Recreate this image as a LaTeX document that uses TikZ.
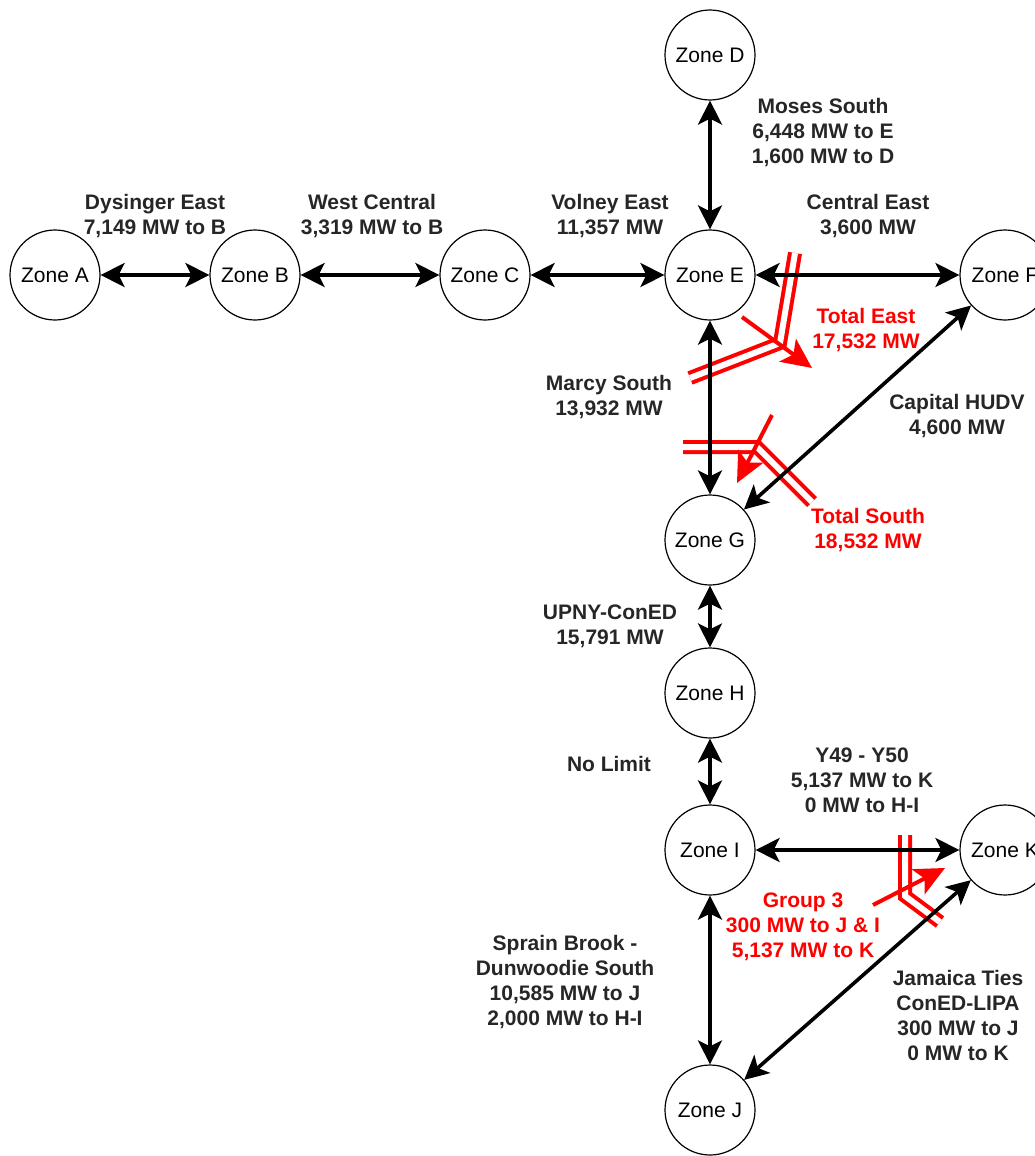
\documentclass[tikz,border=0pt]{standalone}
\usepackage{fontspec}
\setmainfont{Liberation Sans}
\usetikzlibrary{arrows.meta}

\newcommand\zonefont{\fontsize{21}{25}\selectfont}
\newcommand\lblfont{\fontsize{21}{25}\selectfont\bfseries}

\begin{document}
\begin{tikzpicture}[
            x=1pt, y=-1pt,
            zone/.style={circle, draw, line width=1.2pt, minimum size=90pt, inner sep=0pt, font=\zonefont},
            lbl/.style={font=\lblfont, align=center, text=black!85},
            redlbl/.style={font=\lblfont, align=center, text=red},
            link/.style={{Stealth[length=24pt,width=24pt,inset=6pt]}-{Stealth[length=24pt,width=24pt,inset=6pt]}, line width=3.6pt},
            flow/.style={-{Stealth[length=30pt,width=28pt,inset=7pt]}, red, line width=4pt},
            gate/.style={red, line width=4pt, double=white, double distance=6pt}
        ]
            \useasboundingbox (0,0) rectangle (1035,1156);
            \clip (0,0) rectangle (1035,1156);
            % zones
            \node[zone] (A) at (55,275) {Zone A};
            \node[zone] (B) at (255,275) {Zone B};
            \node[zone] (C) at (485,275) {Zone C};
            \node[zone] (D) at (710,55) {Zone D};
            \node[zone] (E) at (710,275) {Zone E};
            \node[zone] (F) at (1005,275) {Zone F};
            \node[zone] (G) at (710,540) {Zone G};
            \node[zone] (H) at (710,693) {Zone H};
            \node[zone] (I) at (710,850) {Zone I};
            \node[zone] (K) at (1005,850) {Zone K};
            \node[zone] (J) at (710,1110) {Zone J};
            % interface limits
            \coordinate (eastA) at (795,253);
            \coordinate (eastB) at (780,343);
            \coordinate (eastC) at (690,378);
            \coordinate (southA) at (683,447);
            \coordinate (southB) at (757,447);
            \coordinate (southC) at (812,502);
            \coordinate (grpA) at (905,835);
            \coordinate (grpB) at (905,896);
            \coordinate (grpC) at (940,922);
            \draw[gate] (eastA) -- (eastB) -- (eastC);
            \draw[gate] (southA) -- (southB) -- (southC);
            \draw[gate] (grpA) -- (grpB) -- (grpC);
            \draw[flow] (742,317) -- (812,368);
            \draw[flow] (772,415) -- (737,483);
            \draw[flow] (873,905) -- (945,868);
            % ties
            \draw[link] (A) -- (B);
            \draw[link] (B) -- (C);
            \draw[link] (C) -- (E);
            \draw[link] (E) -- (F);
            \draw[link] (D) -- (E);
            \draw[link] (E) -- (G);
            \draw[link] (F) -- (G);
            \draw[link] (G) -- (H);
            \draw[link] (H) -- (I);
            \draw[link] (I) -- (K);
            \draw[link] (I) -- (J);
            \draw[link] (J) -- (K);
            % labels
            \node[lbl] (dysinger) at (155,216) {Dysinger East\\7,149 MW to B};
            \node[lbl] (westcentral) at (372,216) {West Central\\3,319 MW to B};
            \node[lbl] (volney) at (610,216) {Volney East\\11,357 MW};
            \node[lbl] (moses) at (823,133) {Moses South\\6,448 MW to E\\1,600 MW to D};
            \node[lbl] (centraleast) at (868,216) {Central East\\3,600 MW};
            \node[redlbl] (totaleast) at (866,330) {Total East\\17,532 MW};
            \node[lbl] (marcy) at (609,397) {Marcy South\\13,932 MW};
            \node[lbl] (capital) at (957,416) {Capital HUDV\\4,600 MW};
            \node[redlbl] (totalsouth) at (868,530) {Total South\\18,532 MW};
            \node[lbl] (upny) at (610,626) {UPNY-ConED\\15,791 MW};
            \node[lbl] (nolimit) at (609,764) {No Limit};
            \node[lbl] (y49) at (862,780) {Y49 - Y50\\5,137 MW to K\\0 MW to H-I};
            \node[redlbl] (group3) at (803,927) {Group 3\\300 MW to J \& I\\5,137 MW to K};
            \node[lbl] (sprain) at (565,982) {Sprain Brook -\\Dunwoodie South\\10,585 MW to J\\2,000 MW to H-I};
            \node[lbl] (jamaica) at (958,1015) {Jamaica Ties\\ConED-LIPA\\300 MW to J\\0 MW to K};
        \end{tikzpicture}
\end{document}
